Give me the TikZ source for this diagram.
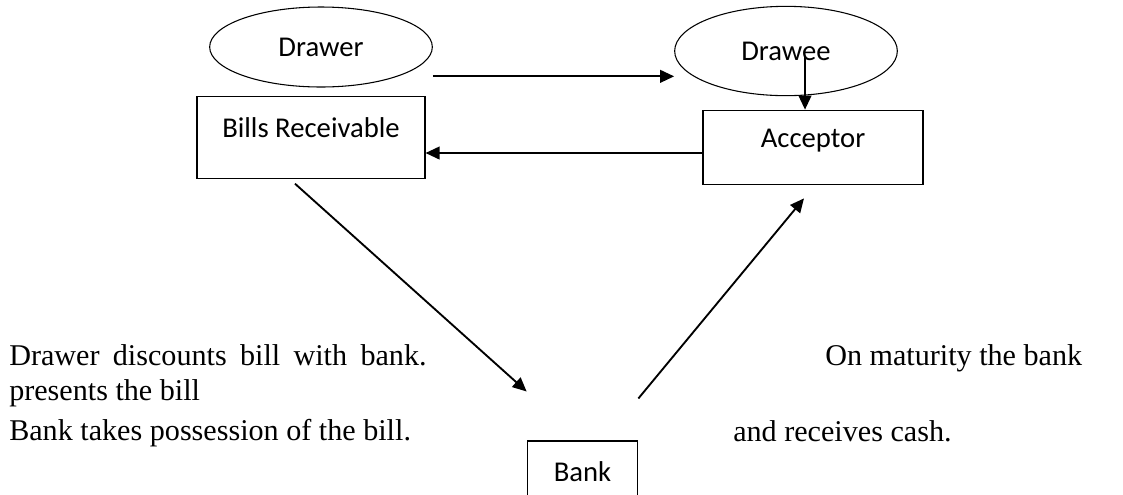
\documentclass[tikz,border=0pt]{standalone}
\usepackage{fontspec}
\setmainfont{Liberation Serif}
\newfontfamily\boxfont{Carlito}
\usetikzlibrary{calc,arrows.meta,shapes.geometric}

\begin{document}
\begin{tikzpicture}[x=0.75pt,y=-0.75pt,
  oval/.style={draw, ellipse, line width=0.8pt, inner sep=0pt, font=\boxfont\fontsize{21.5}{25}\selectfont},
  box/.style={draw, rectangle, line width=0.8pt, inner sep=0pt, text height=15pt, text depth=15pt, font=\boxfont\fontsize{21.5}{25}\selectfont},
  arr/.style={-{Triangle[length=10.5pt,width=9.5pt]}, line width=1.4pt},
  note/.style={anchor=base west, inner sep=0pt, font=\fontsize{22.6}{27}\selectfont}]
\useasboundingbox (0,0) rectangle (1123,494);
% parties
\node[oval, minimum width=167pt, minimum height=60pt] (drawer) at (321,47) {Drawer};
\node[oval, minimum width=167pt, minimum height=67pt] (drawee) at (786,51) {Drawee};
\node[box, minimum width=171pt, minimum height=61pt] (br) at (311,137.5) {Bills Receivable};
\node[box, minimum width=165pt, minimum height=56pt] (acceptor) at (813,147.5) {Acceptor};
\node[box, minimum width=83pt, minimum height=60pt] (bank) at (582.5,481) {Bank};
% flow of the bill
\coordinate (dtop) at ($(drawee.center)+(19,5)$);
\coordinate (aw) at ($(acceptor.west)+(0,5.5)$);
\draw[arr] ([yshift=-22pt]drawer.east) -- ([yshift=-22pt]drawer.east -| drawee.west);
\draw[arr] (dtop) -- (dtop |- acceptor.north);
\draw[arr] (aw) -- (aw -| br.east);
\draw[arr] ($(br.south)+(-16,5)$) -- ($(bank.north west)+(0,-49)$);
\draw[arr] ($(bank.north east)+(0,-42)$) -- ($(acceptor.south)+(-9,13)$);
% notes
\node[note] (discount) at (9,365) {\makebox[313pt][s]{Drawer discounts bill with bank.}};
\node[note] (presents) at (9,400) {presents the bill};
\node[note] (possess) at (9,440) {Bank takes possession of the bill.};
\node[note] (maturity) at (825,365) {On maturity the bank};
\node[note] (cash) at (733,441) {and receives cash.};
\end{tikzpicture}
\end{document}
